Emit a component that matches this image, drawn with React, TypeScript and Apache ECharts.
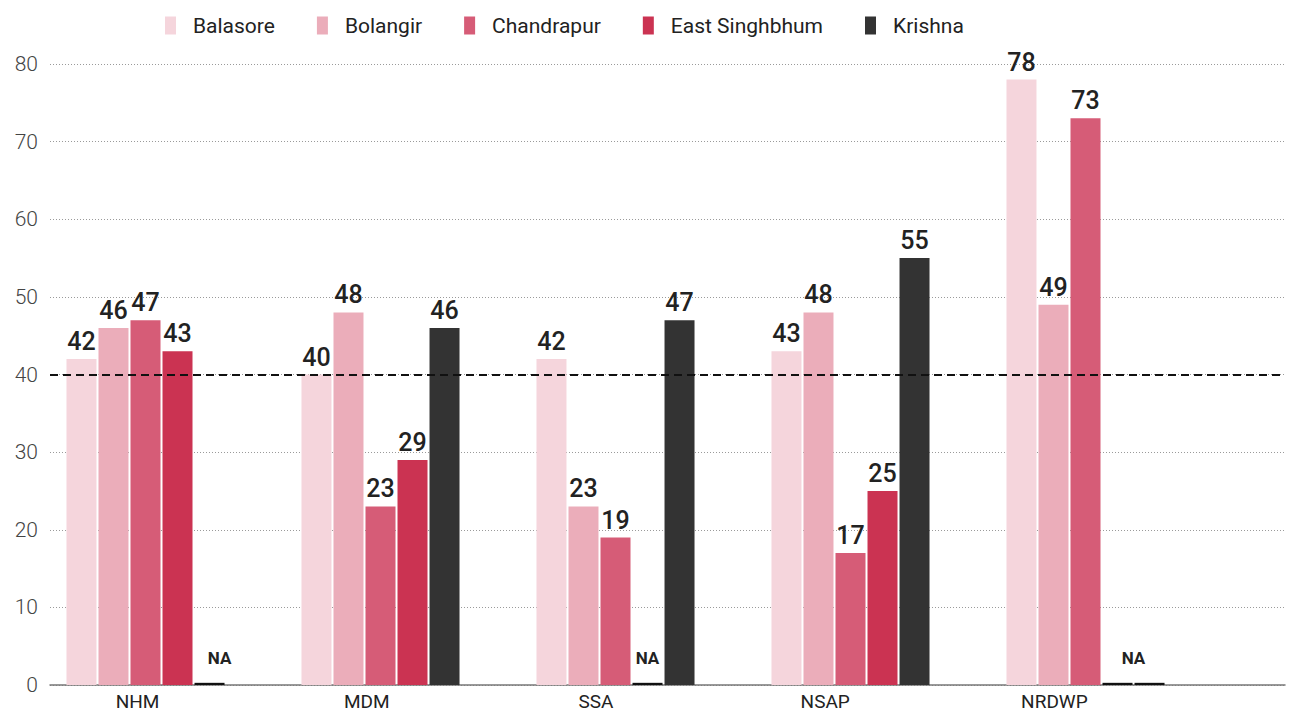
import React, { useEffect, useRef } from "react";
import * as echarts from "echarts";

const categories = ["NHM", "MDM", "SSA", "NSAP", "NRDWP"];
const districts = ["Balasore", "Bolangir", "Chandrapur", "East Singhbhum", "Krishna"];
const districtColors = ["#f5d5dc", "#ebadba", "#d65c77", "#cb3352", "#333333"];

const balasore = [42, 40, 42, 43, 78];
const bolangir = [46, 48, 23, 48, 49];
const chandrapur = [47, 23, 19, 17, 73];
const eastSinghbhum: (number | null)[] = [43, 29, null, 25, null];
const krishna: (number | null)[] = [null, 46, 47, 55, null];

const yMin = 0;
const yMax = 80;
const yInterval = 10;
const threshold = 40;

// value used only to draw a hairline stub for "not available"
const NA_STUB = 0.28;
// where an "NA" text goes: [seriesIndex-categoryIndex] -> x offset
const naLabels: Record<string, number> = { "4-0": 10, "3-2": 0, "3-4": 16 };

const seriesValues = [balasore, bolangir, chandrapur, eastSinghbhum, krishna];

const FONT = "Roboto, 'Noto Sans', sans-serif";

export default function App() {
  const ref = useRef<HTMLDivElement>(null);

  useEffect(() => {
    document.body.style.margin = "0";
    if (!ref.current) return;
    const chart = echarts.init(ref.current, undefined, { renderer: "svg" });

    const common = { top: 64, bottom: 28 };

    const barSeries = districts.map((name, si) => ({
      name,
      type: "bar",
      xAxisIndex: 1,
      yAxisIndex: 1,
      barWidth: 30,
      barGap: "6.7%",
      itemStyle: { color: districtColors[si] },
      label: {
        show: true,
        position: "top",
        distance: 5,
        color: "#222",
        fontFamily: FONT,
        fontSize: 25,
        fontWeight: 500,
      },
      data: seriesValues[si].map((v, ci) => {
        if (v === null) {
          const key = `${si}-${ci}`;
          const has = key in naLabels;
          return {
            value: NA_STUB,
            itemStyle: { color: "#111" },
            label: has
              ? {
                  show: true,
                  formatter: "NA",
                  fontSize: 17,
                  fontWeight: 700,
                  distance: 16,
                  offset: [naLabels[key], 0],
                }
              : { show: false },
          };
        }
        return v;
      }),
    }));

    chart.setOption({
      animation: false,
      backgroundColor: "#fff",
      legend: {
        data: districts,
        left: 160,
        top: 10,
        itemWidth: 11,
        itemHeight: 18,
        itemGap: 42,
        icon: "rect",
        textStyle: {
          fontFamily: FONT,
          fontSize: 21,
          color: "#222",
          padding: [0, 0, 0, 12],
        },
      },
      grid: [
        { left: 50, right: 13, ...common },
        { left: 28, width: 1175, ...common },
        { left: 23, width: 1146, ...common },
      ],
      xAxis: [
        {
          type: "category",
          gridIndex: 0,
          data: categories,
          axisLine: { show: true, lineStyle: { color: "#777", width: 1.5 } },
          axisTick: { show: false },
          axisLabel: { show: false },
          splitLine: { show: false },
        },
        {
          type: "category",
          gridIndex: 1,
          data: categories,
          show: false,
        },
        {
          type: "category",
          gridIndex: 2,
          data: categories,
          axisLine: { show: false },
          axisTick: { show: false },
          axisLabel: {
            show: true,
            color: "#222",
            fontFamily: FONT,
            fontSize: 19,
            margin: 7,
          },
        },
      ],
      yAxis: [
        {
          type: "value",
          gridIndex: 0,
          min: yMin,
          max: yMax,
          interval: yInterval,
          axisLine: { show: false },
          axisTick: { show: false },
          axisLabel: {
            color: "#444",
            fontFamily: FONT,
            fontSize: 21,
            fontWeight: 300,
            margin: 12,
          },
          splitLine: {
            show: true,
            lineStyle: { color: "#9a9a9a", type: [1, 2], width: 1 },
          },
        },
        { type: "value", gridIndex: 1, min: yMin, max: yMax, interval: yInterval, show: false },
        { type: "value", gridIndex: 2, min: yMin, max: yMax, interval: yInterval, show: false },
      ],
      series: [
        ...barSeries,
        {
          name: "threshold",
          type: "line",
          xAxisIndex: 0,
          yAxisIndex: 0,
          data: [],
          silent: true,
          z: 5,
          markLine: {
            silent: true,
            symbol: "none",
            label: { show: false },
            lineStyle: { color: "#111", type: [8, 5], width: 2 },
            data: [{ yAxis: threshold }],
          },
        },
      ],
    });

    return () => chart.dispose();
  }, []);

  return <div ref={ref} style={{ width: 1298, height: 713 }} />;
}
